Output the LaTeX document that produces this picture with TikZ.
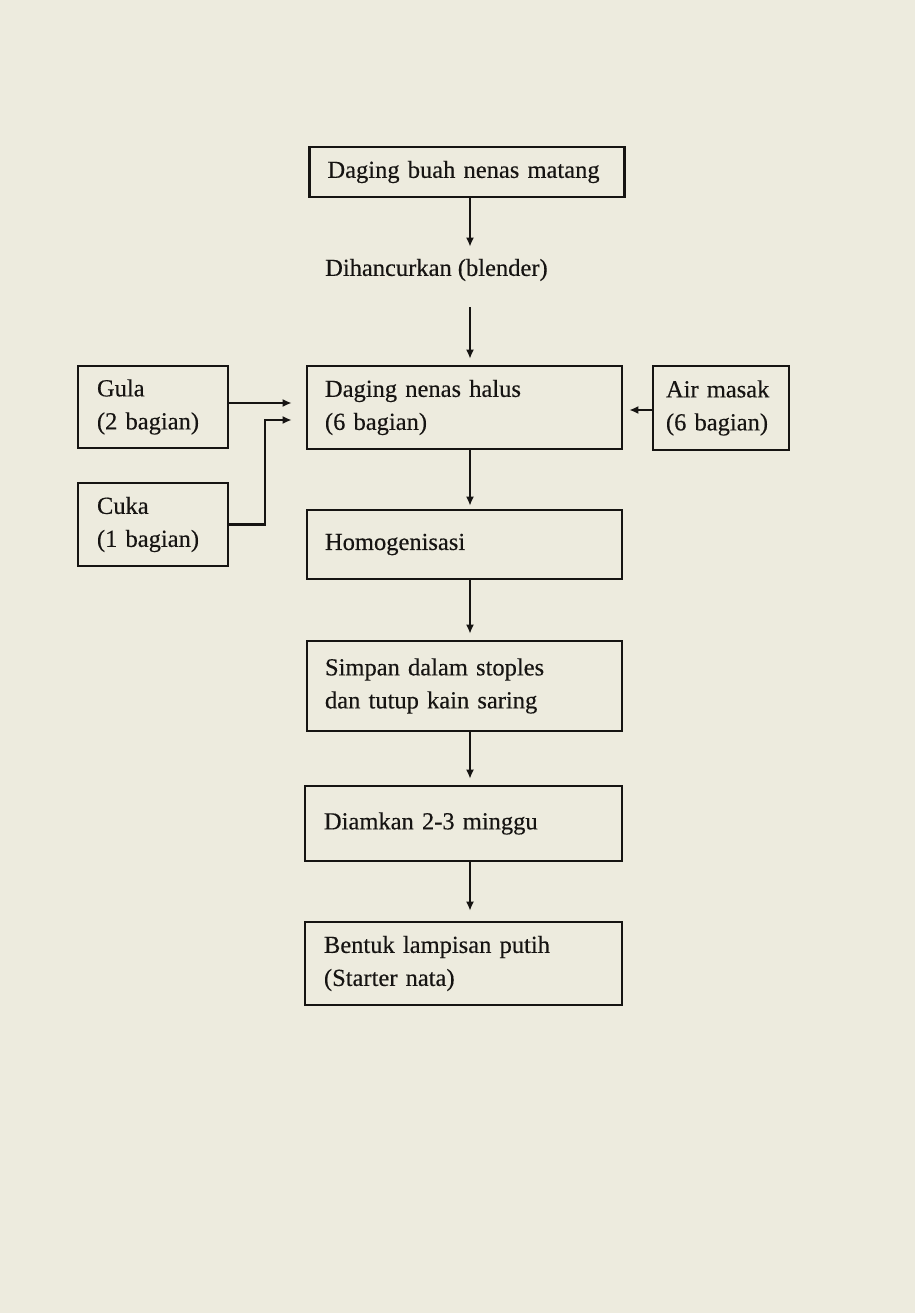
\documentclass[tikz,border=0pt]{standalone}
\usepackage{fontspec}
\setmainfont{Liberation Serif}[FakeBold=0.35]
\usetikzlibrary{arrows.meta}
\definecolor{paper}{RGB}{237,235,222}
\definecolor{ink}{RGB}{22,20,18}
\tikzset{
  stepbox/.style={draw=ink, line width=2.6pt, rectangle, inner ysep=0pt,
    align=left, text=ink, font=\fontsize{24.5}{33}\selectfont},
  mainbox/.style={stepbox, minimum width=315pt, inner xsep=18pt, text width=279pt},
  sidebox/.style={stepbox, minimum width=150pt, inner xsep=19pt, text width=112pt},
  plain/.style={text=ink, font=\fontsize{24.5}{33}\selectfont, inner sep=0pt},
  arr/.style={draw=ink, line width=2.1pt, -{Latex[length=9pt,width=8pt]}}
}
\begin{document}
\begin{tikzpicture}[x=1pt,y=-1pt]
  % paper
  \fill[paper] (0,0) rectangle (915,1313);
  \useasboundingbox (0,0) rectangle (915,1313);

  % main column
  \node[mainbox, minimum width=312pt, minimum height=50pt] (buah) at (467,172) {Daging buah nenas matang};
  \node[plain, anchor=west] (blend) at (325,270) {Dihancurkan (blender)};
  \node[mainbox, minimum height=83pt] (halus) at (464.5,407.5) {Daging nenas halus\\(6 bagian)};
  \node[mainbox, minimum height=69pt] (homo) at (464.5,544.5) {Homogenisasi};
  \node[mainbox, minimum height=90pt] (simpan) at (464.5,686) {Simpan dalam stoples\\dan tutup kain saring};
  \node[mainbox, minimum width=317pt, minimum height=75pt] (diam) at (463.5,823.5) {Diamkan 2-3 minggu};
  \node[mainbox, minimum width=317pt, minimum height=83pt] (bentuk) at (463.5,963.5) {Bentuk lampisan putih\\(Starter nata)};

  % ingredients
  \node[sidebox, minimum height=82pt] (gula) at (153,407) {Gula\\(2 bagian)};
  \node[sidebox, minimum height=83pt] (cuka) at (153,524.5) {Cuka\\(1 bagian)};
  \node[sidebox, minimum width=136pt, inner xsep=13pt, text width=110pt, minimum height=84pt] (air) at (721,408) {Air masak\\(6 bagian)};

  % flow line position
  \coordinate (ax) at (470,0);
  \coordinate (gy) at (0,403);
  \coordinate (cy) at (0,420);
  \coordinate (ay) at (0,410);
  \coordinate (cx) at (265,0);

  % vertical connectors
  \draw[arr] (buah.south -| ax) -- ([yshift=12pt]blend.north -| ax);
  \draw[arr] ([yshift=-26pt]blend.south -| ax) -- ([yshift=6pt]halus.north -| ax);
  \draw[arr] (halus.south -| ax) -- ([yshift=3pt]homo.north -| ax);
  \draw[arr] (homo.south -| ax) -- ([yshift=6pt]simpan.north -| ax);
  \draw[arr] (simpan.south -| ax) -- ([yshift=6pt]diam.north -| ax);
  \draw[arr] (diam.south -| ax) -- ([yshift=10pt]bentuk.north -| ax);

  % side connectors
  \draw[arr, shorten >=14pt] (gula.east |- gy) -- (halus.west |- gy);
  \draw[arr, shorten >=14pt] (cuka.east) -| (cx |- cy) -- (halus.west |- cy);
  \draw[arr, shorten >=6pt] (air.west |- ay) -- (halus.east |- ay);
\end{tikzpicture}
\end{document}
